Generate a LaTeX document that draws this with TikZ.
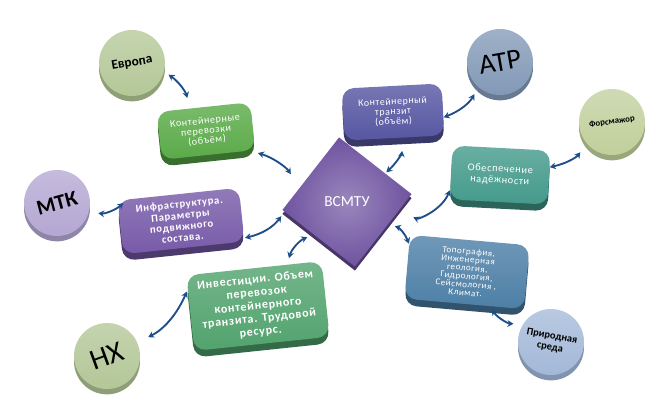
\documentclass[tikz,border=0pt]{standalone}
\usepackage{fontspec}
\setmainfont{Carlito}
\newfontfamily\boxfont[LetterSpace=6]{Carlito}
\usetikzlibrary{arrows.meta,shadows}

\definecolor{linkC}{HTML}{1E4E8A}
\definecolor{evropaC}{HTML}{B3C796}
\definecolor{mtkC}{HTML}{B3A6D2}
\definecolor{nhC}{HTML}{B2C696}
\definecolor{atrC}{HTML}{8198B6}
\definecolor{forsC}{HTML}{C0CF9B}
\definecolor{prirodaC}{HTML}{A3B8D8}
\definecolor{perevozkiC}{HTML}{5AAA48}
\definecolor{infraC}{HTML}{775AA8}
\definecolor{investiciiC}{HTML}{52A36E}
\definecolor{tranzitC}{HTML}{5656A2}
\definecolor{nadezhnostC}{HTML}{449A8B}
\definecolor{topografiaC}{HTML}{4D7FA6}
\definecolor{vsmtuC}{HTML}{6F53A0}

\begin{document}
\begin{tikzpicture}[line cap=round,line join=round,>={Stealth[length=4.5pt,width=5pt]},x=0.75pt,y=-0.75pt,
  ball/.style={circle,inner sep=0pt,minimum size=49.5pt,top color=#1!75!white,bottom color=#1,
    general shadow={fill=#1!80!black,shadow yshift=-4pt},font=\bfseries},
  box/.style={rectangle,rounded corners=9pt,inner sep=2pt,align=center,text=white,
    top color=#1!80!white,bottom color=#1,general shadow={fill=#1!65!black,shadow yshift=-5pt}},
  link/.style={<->,line width=1.4pt,color=linkC}]
\useasboundingbox (0,0) rectangle (664,401);
\node[ball=evropaC,rotate=10,font=\bfseries\fontsize{10}{10}\selectfont] (evropa) at (132,63) {Европа};
\node[ball=mtkC,rotate=15,font=\bfseries\fontsize{16}{16}\selectfont] (mtk) at (57,203) {МТК};
\node[ball=nhC,rotate=20,font=\fontsize{22}{22}\selectfont] (nh) at (107,356) {НХ};
\node[ball=atrC,rotate=10,font=\fontsize{21}{21}\selectfont] (atr) at (500,62) {АТР};
\node[ball=forsC,rotate=8,font=\bfseries\fontsize{6.6}{6.6}\selectfont] (fors) at (612,122) {Форсмажор};
\node[ball=prirodaC,rotate=-10,align=center,font=\bfseries\fontsize{7.8}{8.6}\selectfont] (priroda) at (551,342) {Природная\\среда};
\node[box=perevozkiC,rotate=6,minimum width=70.5pt,minimum height=36pt,font=\boxfont\fontsize{7.6}{7.4}\selectfont] (perevozki) at (206,131) {Контейнерные\\перевозки\\(объём)};
\node[box=infraC,rotate=6,minimum width=91.5pt,minimum height=40.5pt,font=\boxfont\bfseries\fontsize{8}{8.4}\selectfont] (infra) at (181,221) {Инфраструктура.\\Параметры\\подвижного\\состава.};
\node[box=investiciiC,rotate=6,minimum width=102pt,minimum height=57pt,font=\boxfont\bfseries\fontsize{9}{9.8}\selectfont] (investicii) at (258,306) {Инвестиции. Объем\\перевозок\\контейнерного\\транзита. Трудовой\\ресурс.};
\node[box=tranzitC,rotate=3,minimum width=75pt,minimum height=39pt,font=\boxfont\fontsize{7.4}{7.4}\selectfont] (tranzit) at (393,112) {Контейнерный\\транзит\\(объём)};
\node[box=nadezhnostC,rotate=-3,minimum width=73.5pt,minimum height=40.5pt,font=\boxfont\fontsize{7.8}{8.4}\selectfont] (nadezhnost) at (500,175) {Обеспечение\\надёжности};
\node[box=topografiaC,rotate=-5,minimum width=90pt,minimum height=48pt,font=\boxfont\fontsize{6.8}{6.2}\selectfont] (topografia) at (467,272) {Топография,\\Инженерная\\геология,\\Гидрология,\\Сейсмология ,\\Климат.};
\node[rectangle,rotate=52,minimum size=69pt,inner color=vsmtuC!70!white,outer color=vsmtuC,
  general shadow={fill=vsmtuC!65!black,shadow yshift=-3pt}] (vsmtu) at (347,202) {};
\node[text=white,font=\fontsize{11.5}{11.5}\selectfont] (vsmtutext) at (vsmtu) {ВСМТУ};
\draw[link,shorten <=4pt,shorten >=8pt] (evropa.-25) to[bend left=20] (perevozki.119);
\draw[link,shorten <=6pt,shorten >=12pt] (perevozki.-30) to[bend left=20] (vsmtu.111);
\draw[link,shorten <=7pt,shorten >=4pt] (mtk.-31) to[bend right=25] (infra.152);
\draw[link,shorten <=0.5pt,shorten >=4pt] (infra.-21) to[bend right=20] (vsmtu.137);
\draw[link,shorten <=5pt,shorten >=5pt] (vsmtu.172) to[bend right=25] (investicii.49);
\draw[link,shorten <=9pt,shorten >=1.5pt] (nh.4) to[bend right=20] (investicii.161);
\draw[link,shorten <=6pt] (atr.219) to[bend left=20] (tranzit.-9);
\draw[link,shorten <=10pt,shorten >=1pt] (tranzit.-70) to[bend left=20] (vsmtu.-15);
\draw[link,shorten <=8pt] (fors.213) to[bend left=20] (nadezhnost.12);
\draw[link,shorten >=12pt] (nadezhnost.200) to[bend left=45] (vsmtu.-62);
\draw[link,shorten <=5pt] (vsmtu.-80) to[bend left=25] (topografia.159);
\draw[link,shorten <=3pt,shorten >=7pt] (topografia.-52) to[bend right=25] (priroda.158);
\end{tikzpicture}
\end{document}
